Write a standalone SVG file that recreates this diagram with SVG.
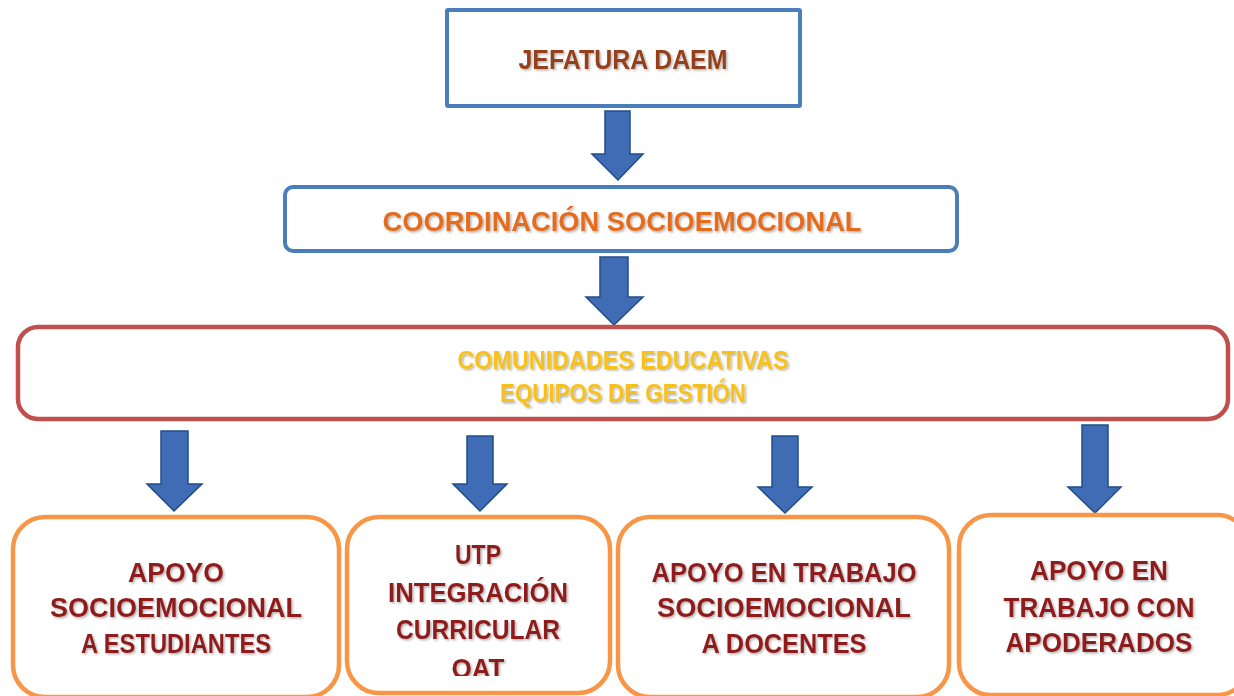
<svg xmlns="http://www.w3.org/2000/svg" width="1234" height="696" viewBox="0 0 1234 696">
<style>
.t{font-family:"Liberation Sans",Arial,sans-serif;font-weight:bold;text-anchor:middle;filter:url(#sh)}
.blue{fill:#fff;stroke:#4A7EBB;stroke-width:4}
.red{fill:#fff;stroke:#C0504D;stroke-width:4.5}
.org{fill:#fff;stroke:#F79646;stroke-width:4.5}
.arr{fill:#3F6CB4;stroke:#1F4D8A;stroke-width:1.5;stroke-linejoin:miter}
.dr{fill:#8E1C1C;font-size:28px}
</style>
<defs>
<filter id="sh" x="-5%" y="-30%" width="110%" height="160%">
<feDropShadow dx="1.5" dy="1.5" stdDeviation="1" flood-color="#000" flood-opacity="0.3"/>
</filter>
<clipPath id="clipB"><rect x="347" y="520" width="263" height="156"/></clipPath>
</defs>
<g id="connectors">
<path class="arr" d="M605,111 H630 V154 H643 L618,180 L592,154 H605 Z"/>
<path class="arr" d="M600,257 H628 V297 H643 L614,325 L586,297 H600 Z"/>
<path class="arr" d="M161,431 H188 V484 H202 L174,511 L147,484 H161 Z"/>
<path class="arr" d="M467,436 H493 V484 H507 L480,511 L453,484 H467 Z"/>
<path class="arr" d="M772,436 H798 V487 H812 L785,513 L758,487 H772 Z"/>
<path class="arr" d="M1082,425 H1108 V487 H1121 L1095,513 L1068,487 H1082 Z"/>
</g>
<g id="jefatura">
<rect class="blue" x="447" y="10" width="353" height="96" rx="1"/>
<text class="t" x="623" y="69" font-size="27" fill="#94411F" textLength="209" lengthAdjust="spacingAndGlyphs">JEFATURA DAEM</text>
</g>
<g id="coordinacion">
<rect class="blue" x="285" y="187" width="672" height="64" rx="8"/>
<text class="t" x="622" y="231" font-size="28" fill="#E46C1E" textLength="479" lengthAdjust="spacingAndGlyphs">COORDINACIÓN SOCIOEMOCIONAL</text>
</g>
<g id="comunidades">
<rect class="red" x="18" y="327" width="1210" height="92" rx="20"/>
<text class="t" x="623" y="369" font-size="25" fill="#F7C11E" textLength="331" lengthAdjust="spacingAndGlyphs">COMUNIDADES EDUCATIVAS</text>
<text class="t" x="623" y="402" font-size="25" fill="#F7C11E" textLength="246" lengthAdjust="spacingAndGlyphs">EQUIPOS DE GESTIÓN</text>
</g>
<g id="apoyo-estudiantes">
<rect class="org" x="13" y="517" width="326" height="180" rx="32"/>
<text class="t dr" x="176" y="582" textLength="96" lengthAdjust="spacingAndGlyphs">APOYO</text>
<text class="t dr" x="176" y="617" textLength="252" lengthAdjust="spacingAndGlyphs">SOCIOEMOCIONAL</text>
<text class="t dr" x="176" y="653" textLength="190" lengthAdjust="spacingAndGlyphs">A ESTUDIANTES</text>
</g>
<g id="utp">
<rect class="org" x="347" y="517" width="263" height="176" rx="32"/>
<text class="t dr" x="478" y="564" textLength="46" lengthAdjust="spacingAndGlyphs">UTP</text>
<text class="t dr" x="478" y="602" textLength="180" lengthAdjust="spacingAndGlyphs">INTEGRACIÓN</text>
<text class="t dr" x="478" y="639" textLength="164" lengthAdjust="spacingAndGlyphs">CURRICULAR</text>
<g clip-path="url(#clipB)"><text class="t dr" x="478" y="678" textLength="53" lengthAdjust="spacingAndGlyphs">OAT</text></g>
</g>
<g id="apoyo-docentes">
<rect class="org" x="618" y="517" width="331" height="180" rx="32"/>
<text class="t dr" x="784" y="582" textLength="265" lengthAdjust="spacingAndGlyphs">APOYO EN TRABAJO</text>
<text class="t dr" x="784" y="617" textLength="254" lengthAdjust="spacingAndGlyphs">SOCIOEMOCIONAL</text>
<text class="t dr" x="784" y="653" textLength="165" lengthAdjust="spacingAndGlyphs">A DOCENTES</text>
</g>
<g id="apoyo-apoderados">
<rect class="org" x="959" y="515" width="290" height="180" rx="32"/>
<text class="t dr" x="1099" y="580" textLength="138" lengthAdjust="spacingAndGlyphs">APOYO EN</text>
<text class="t dr" x="1099" y="617" textLength="191" lengthAdjust="spacingAndGlyphs">TRABAJO CON</text>
<text class="t dr" x="1099" y="652" textLength="187" lengthAdjust="spacingAndGlyphs">APODERADOS</text>
</g>
</svg>
